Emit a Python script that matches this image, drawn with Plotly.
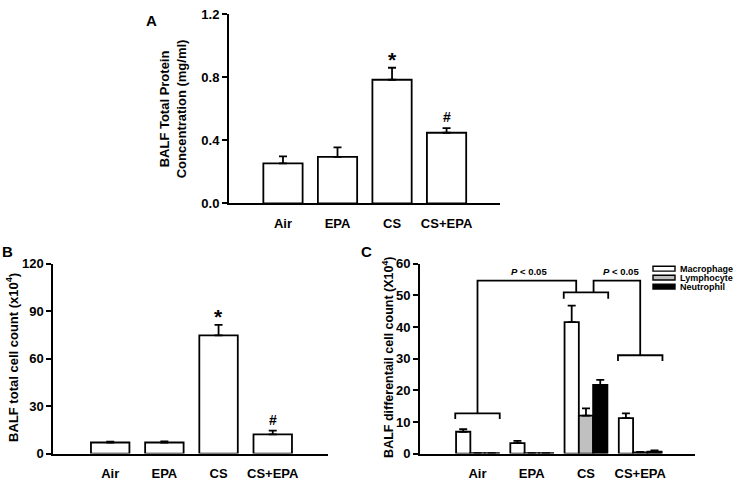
import plotly.graph_objects as go

groups = ["Air", "EPA", "CS", "CS+EPA"]

# panel A - BALF total protein (mg/ml)
protein = [0.254, 0.295, 0.784, 0.448]
protein_err = [0.045, 0.061, 0.076, 0.029]

# panel B - BALF total cell count (x10^4)
total_cells = [7.0, 7.0, 74.8, 12.1]
total_cells_err = [0.5, 0.7, 6.6, 2.4]

# panel C - differential cell count (x10^4)
cell_types = ["Macrophage", "Lymphocyte", "Neutrophil"]
macrophage = [6.9, 3.3, 41.6, 11.2]
macrophage_err = [0.8, 0.7, 5.2, 1.5]
lymphocyte = [0.1, 0.1, 12.0, 0.4]
lymphocyte_err = [0.0, 0.0, 2.3, 0.1]
neutrophil = [0.1, 0.1, 21.7, 0.6]
neutrophil_err = [0.0, 0.0, 1.6, 0.4]

W, H = 737, 489
FONT = "Liberation Sans"


def px(x):
    return x / W


def py(y):
    return 1 - y / H


fig = go.Figure()

line = dict(color="black", width=1.8)


def err(vals):
    return dict(type="data", symmetric=False, array=vals, arrayminus=[0] * len(vals),
                color="black", thickness=1.8, width=4)


fig.add_trace(go.Bar(x=groups, y=protein, error_y=err(protein_err), width=0.72,
                     marker=dict(color="white", line=line), xaxis="x", yaxis="y",
                     showlegend=False))
fig.add_trace(go.Bar(x=groups, y=total_cells, error_y=err(total_cells_err), width=0.71,
                     marker=dict(color="white", line=line), xaxis="x2", yaxis="y2",
                     showlegend=False))

colors = ["white", "#c0c0c0", "black"]
for name, vals, e, c in zip(cell_types, [macrophage, lymphocyte, neutrophil],
                            [macrophage_err, lymphocyte_err, neutrophil_err], colors):
    fig.add_trace(go.Bar(x=groups, y=vals, error_y=err(e), name=name,
                         marker=dict(color=c, line=line), xaxis="x3", yaxis="y3",
                         showlegend=False))

tickfont = dict(family=FONT, size=13, color="black", weight="bold")
xcommon = dict(showline=True, linecolor="black", linewidth=2, ticks="outside",
               ticklen=7, tickcolor="rgba(0,0,0,0)", tickfont=tickfont,
               showgrid=False, zeroline=False, fixedrange=True)
ycommon = dict(showline=True, linecolor="black", linewidth=2, ticks="outside",
               ticklen=5, tickwidth=1.8, tickcolor="black", tickfont=tickfont,
               showgrid=False, zeroline=False, fixedrange=True)

fig.update_layout(
    width=W, height=H,
    margin=dict(l=0, r=0, t=0, b=0),
    paper_bgcolor="white", plot_bgcolor="white",
    barmode="group", bargap=0.21, bargroupgap=0,
    xaxis=dict(xcommon, domain=[px(229), px(500)], range=[-0.99, 3.98], anchor="y"),
    yaxis=dict(ycommon, domain=[py(202.7), py(7.3)], range=[0, 1.2], dtick=0.4,
               tickformat=".1f", anchor="x"),
    xaxis2=dict(xcommon, domain=[px(53.3), px(328)], range=[-1.05, 4.02], anchor="y2"),
    yaxis2=dict(ycommon, domain=[py(460.7), py(265)], range=[0, 120], dtick=30,
                anchor="x2"),
    xaxis3=dict(xcommon, domain=[px(420), px(695)], range=[-1.06, 4.01], anchor="y3"),
    yaxis3=dict(ycommon, domain=[py(460.7), py(265)], range=[0, 60], dtick=10,
                anchor="x3"),
)

ann = []


def paper_text(text, x, y, font, angle=0, xanchor="center"):
    return dict(text=text, x=px(x), y=py(y), xref="paper", yref="paper",
                xanchor=xanchor, yanchor="middle", textangle=angle,
                showarrow=False, font=font)


# y-axis titles
title_font = dict(family=FONT, size=13, color="black", weight="bold")
ann.append(paper_text("BALF Total Protein<br>Concentration (mg/ml)", 172.5, 105,
                      title_font, -90))
ann.append(paper_text("BALF total cell count (x10<sup>4</sup>)", 12, 362, title_font, -90))
ann.append(paper_text("BALF differentail cell count (X10<sup>4</sup>)", 388, 362,
                      dict(title_font, size=12.5), -90))

# panel letters
letter_font = dict(family=FONT, size=15, color="black", weight="bold")
for letter, lx, ly in [("A", 151, 14), ("B", 8, 252), ("C", 366, 252)]:
    ann.append(paper_text(letter, lx, ly, letter_font))

# significance marks
marks = [("x", "y", 2, protein, protein_err, "*", 21),
         ("x", "y", 3, protein, protein_err, "#", 14),
         ("x2", "y2", 2, total_cells, total_cells_err, "*", 21),
         ("x2", "y2", 3, total_cells, total_cells_err, "#", 14)]
for xr, yr, i, v, e, s, fs in marks:
    ann.append(dict(text=s, x=groups[i], y=v[i] + e[i], xref=xr, yref=yr,
                    xanchor="center", yanchor="bottom", yshift=-5 if s == "*" else 1,
                    showarrow=False,
                    font=dict(family=FONT, size=fs, color="black", weight="bold")))

# brackets in panel C
shapes = []
half = 0.41
br_air, br_cs, br_cse, br_top = 12.7, 51.0, 31.1, 54.7


def bracket(c, y, drop):
    return dict(type="path", xref="x3", yref="y3", line=dict(color="black", width=1.8),
                path=f"M {c - half} {y - drop} L {c - half} {y} L {c + half} {y} "
                     f"L {c + half} {y - drop}")


shapes.append(bracket(0, br_air, 1.8))
shapes.append(bracket(2, br_cs, 2.0))
shapes.append(bracket(3, br_cse, 1.8))
shapes.append(dict(type="path", xref="x3", yref="y3", line=dict(color="black", width=1.8),
                   path=f"M 0 {br_air} L 0 {br_top} L 1.82 {br_top} L 1.82 {br_cs}"))
shapes.append(dict(type="path", xref="x3", yref="y3", line=dict(color="black", width=1.8),
                   path=f"M 2.14 {br_cs} L 2.14 {br_top} L 3 {br_top} L 3 {br_cse}"))

pfont = dict(family=FONT, size=9.5, color="black", weight="bold")
for xp in [0.95, 2.65]:
    ann.append(dict(text="<i>P</i> < 0.05", x=xp, y=br_top, xref="x3", yref="y3",
                    xanchor="center", yanchor="bottom", yshift=2, showarrow=False,
                    font=pfont))

# legend
legend_font = dict(pfont, size=9)
for k, (name, c) in enumerate(zip(cell_types, colors)):
    yc = 270 + k * 9.2
    shapes.append(dict(type="rect", xref="paper", yref="paper",
                       x0=px(653), x1=px(675), y0=py(yc + 2.5), y1=py(yc - 2.5),
                       fillcolor=c, line=dict(color="black", width=1.4)))
    ann.append(paper_text(name, 678, yc, legend_font, xanchor="left"))

fig.update_layout(annotations=ann, shapes=shapes)

# drop the default body margin so the figure fills the 737x489 window
fig.write_html("out.html", config={"displayModeBar": False},
               post_script="document.body.style.margin='0';"
                           "document.body.style.overflow='hidden';")
